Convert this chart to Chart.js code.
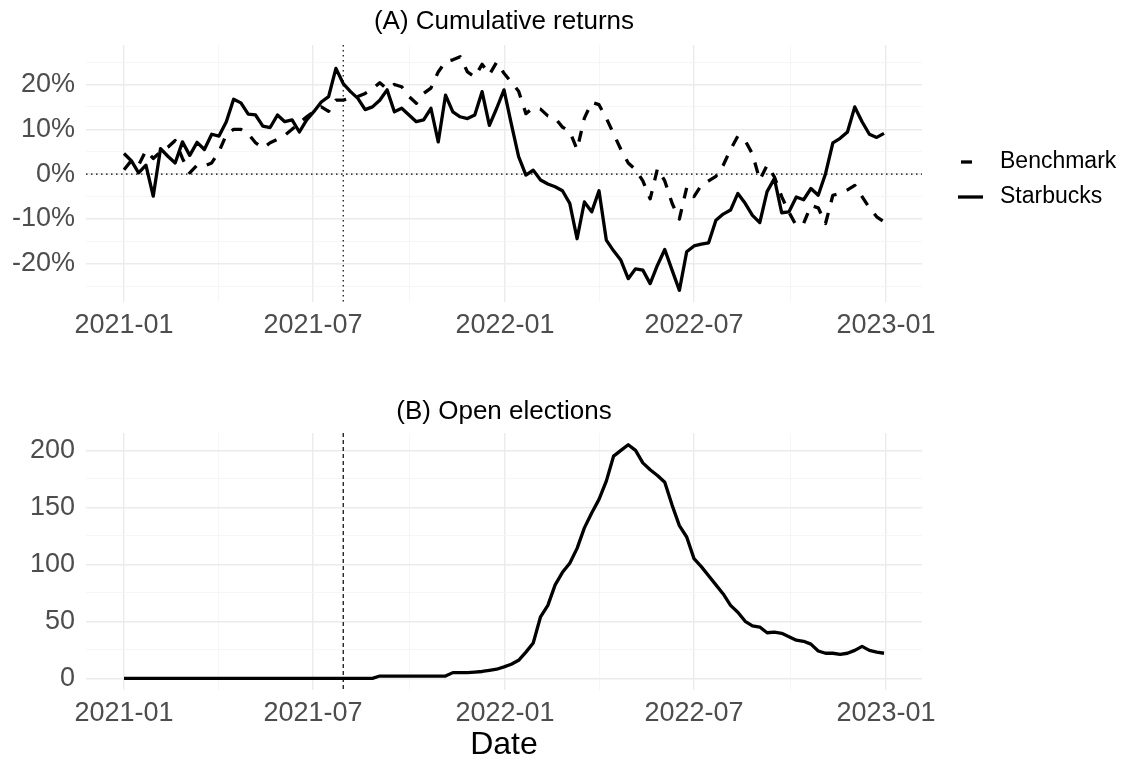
<!DOCTYPE html>
<html>
<head>
<meta charset="utf-8">
<script src="https://cdn.jsdelivr.net/npm/chart.js@4.4.1/dist/chart.umd.min.js"></script>
<style>
  body { margin: 0; background: #fff; }
  #wrap { position: relative; width: 1125px; height: 761px; }
  canvas { position: absolute; left: 0; }
</style>
</head>
<body>
<div id="wrap">
  <canvas id="returns" width="1125" height="380" style="top:0"></canvas>
  <canvas id="elections" width="1125" height="381" style="top:380px"></canvas>
</div>
<script>
// weekly observations, first one on this date
const firstWeek = '2021-01-01';

// cumulative returns, %
const starbucks = [
  4.6, 3.0, 0.3, 2.0, -4.9, 5.7, 4.0, 2.5, 7.2, 4.2,
  7.1, 5.5, 8.9, 8.5, 11.7, 16.7, 15.9, 13.4, 13.2, 10.7,
  10.4, 13.2, 11.7, 12.1, 9.4, 12.1, 14.0, 16.1, 17.3, 23.6,
  20.2, 18.4, 16.9, 14.4, 15.0, 16.5, 18.8, 13.9, 14.7, 13.2,
  11.7, 12.1, 14.7, 7.2, 17.6, 13.9, 12.8, 12.4, 13.2, 18.4,
  10.9, 14.7, 18.8, 11.2, 3.9, -0.2, 0.9, -1.3, -2.2, -2.8,
  -3.7, -6.5, -14.4, -6.2, -8.4, -3.7, -14.7, -17.1, -19.2, -23.3,
  -21.1, -21.4, -24.4, -20.3, -16.8, -21.4, -25.9, -17.3, -16.0, -15.6,
  -15.3, -10.3, -8.9, -8.0, -4.3, -6.5, -9.2, -10.8, -3.9, -1.0,
  -8.6, -8.4, -5.1, -5.7, -3.2, -4.7, 0.1, 7.0, 8.0, 9.4,
  15.0, 11.7, 8.9, 8.2, 9.1
];
const benchmark = [
  1.0, 3.0, 2.0, 5.3, 3.5, 5.0, 6.0, 7.5, 3.5, 0.3,
  2.0, 1.8, 2.5, 5.0, 8.8, 10.0, 10.0, 9.0, 7.0, 5.8,
  7.0, 7.8, 8.7, 10.0, 11.5, 12.8, 14.0, 15.0, 14.0, 16.5,
  16.5, 17.0, 17.3, 18.0, 19.0, 20.4, 19.0, 20.0, 19.5, 17.3,
  15.8, 18.0, 19.2, 22.8, 25.1, 25.5, 26.2, 22.8, 21.7, 24.5,
  22.2, 25.0, 22.5, 20.5, 18.5, 13.5, 14.8, 14.5, 13.0, 12.5,
  10.5, 9.5, 5.5, 12.5, 16.0, 15.5, 12.5, 9.0, 5.5, 2.5,
  1.0, -1.5, -5.5, 1.2, -1.5, -6.5, -10.0, -3.0, -5.0, -2.5,
  -1.5, -0.5, 2.0, 5.5, 8.5, 7.5, 4.5, -1.3, 2.0, -0.6,
  -5.0, -8.5, -11.5, -11.0, -7.0, -7.5, -11.0, -4.7, -4.3, -3.5,
  -2.5, -5.0, -7.5, -9.5, -10.6
];

// number of open union elections
const openElections = [
  0, 0, 0, 0, 0, 0, 0, 0, 0, 0,
  0, 0, 0, 0, 0, 0, 0, 0, 0, 0,
  0, 0, 0, 0, 0, 0, 0, 0, 0, 0,
  0, 0, 0, 0, 0, 2, 2, 2, 2, 2,
  2, 2, 2, 2, 2, 5, 5, 5, 5.5, 6,
  7, 8, 10, 12.3, 15.8, 23, 31, 54, 64, 82,
  93, 101, 114, 132, 145, 157, 173, 195, 200, 205,
  200, 189, 183, 178, 172, 152, 134, 124, 105, 98,
  90, 82, 74, 64, 58, 50, 46, 45, 40, 40.5,
  39.5, 36.5, 33.5, 32.5, 30, 24, 22, 22, 21, 22,
  24.5, 28, 24.5, 23, 22
];

const dateTicks = ['2021-01-01', '2021-07-01', '2022-01-01', '2022-07-01', '2023-01-01'];
const returnTicks = [-20, -10, 0, 10, 20];
const electionTicks = [0, 50, 100, 150, 200];
const eventDate = '2021-07-30';

const DAY = 86400000;
const t0 = Date.parse(firstWeek);
function toDay(s) { return (Date.parse(s) - t0) / DAY; }
const weekDays = starbucks.map((v, i) => i * 7);
const xMajors = dateTicks.map(toDay);

// ggplot style 5% padding around the data
function expand(vals) {
  const lo = Math.min(...vals), hi = Math.max(...vals), pad = (hi - lo) * 0.05;
  return [lo - pad, hi + pad];
}
// major breaks plus minor breaks halfway between
function gridTicks(majors, min, max) {
  const ticks = majors.map(v => ({ value: v }));
  for (let i = 0; i < majors.length - 1; i++) {
    ticks.push({ value: (majors[i] + majors[i + 1]) / 2, minor: true });
  }
  const n = majors.length;
  ticks.push({ value: majors[0] - (majors[1] - majors[0]) / 2, minor: true });
  ticks.push({ value: majors[n - 1] + (majors[n - 1] - majors[n - 2]) / 2, minor: true });
  return ticks.filter(t => t.value >= min && t.value <= max).sort((a, b) => a.value - b.value);
}

const xRange = expand(weekDays);
const retRange = expand(starbucks.concat(benchmark));
const elRange = expand(openElections);

const tickColor = '#4d4d4d';
const font = 'Liberation Sans, Arial, sans-serif';
const gridColor = c => (c.tick && c.tick.minor) ? '#f4f4f4' : '#ebebeb';
const gridWidth = c => (c.tick && c.tick.minor) ? 0.8 : 1.4;

function xScale(withTitle) {
  return {
    type: 'linear',
    min: xRange[0],
    max: xRange[1],
    afterBuildTicks: s => { s.ticks = gridTicks(xMajors, s.min, s.max); },
    afterFit: s => { s.height = withTitle ? 71 : 78; },
    grid: { color: gridColor, lineWidth: gridWidth, drawTicks: false },
    border: { display: false },
    ticks: {
      autoSkip: false, maxRotation: 0, padding: 7, color: tickColor,
      font: { family: font, size: 27 },
      callback: (v, i, ticks) => ticks[i].minor ? '' : dateTicks[xMajors.indexOf(v)].slice(0, 7)
    },
    title: {
      display: withTitle, text: 'Date', color: '#000',
      font: { family: font, size: 32, lineHeight: 1.0 }, padding: { top: 0, bottom: 0 }
    }
  };
}
function yScale(range, majors, fmt) {
  return {
    min: range[0],
    max: range[1],
    afterBuildTicks: s => { s.ticks = gridTicks(majors, s.min, s.max); },
    afterFit: s => { s.width = 86; },
    grid: { color: gridColor, lineWidth: gridWidth, drawTicks: false },
    border: { display: false },
    ticks: {
      autoSkip: false, padding: 11, color: tickColor, font: { family: font, size: 27 },
      callback: (v, i, ticks) => ticks[i].minor ? '' : fmt(v)
    }
  };
}

// dotted/dashed reference lines under the data
const refLines = {
  id: 'refLines',
  beforeDatasetsDraw(chart, args, opts) {
    const { ctx, chartArea, scales } = chart;
    ctx.save();
    ctx.strokeStyle = '#000';
    ctx.lineWidth = 1.2;
    ctx.setLineDash(opts.dash);
    if (opts.vx != null) {
      const x = scales.x.getPixelForValue(opts.vx);
      ctx.beginPath(); ctx.moveTo(x, chartArea.top); ctx.lineTo(x, chartArea.bottom); ctx.stroke();
    }
    if (opts.hy != null) {
      const y = scales.y.getPixelForValue(opts.hy);
      ctx.beginPath(); ctx.moveTo(chartArea.left, y); ctx.lineTo(chartArea.right, y); ctx.stroke();
    }
    ctx.restore();
  }
};

// legend drawn in the right margin, keys use the dataset styles
const sideLegend = {
  id: 'sideLegend',
  afterDraw(chart) {
    const ctx = chart.ctx;
    const rows = [162, 197];
    chart.data.datasets.forEach((ds, i) => {
      const y = rows[i];
      ctx.save();
      ctx.strokeStyle = ds.borderColor;
      ctx.lineWidth = ds.borderWidth;
      ctx.setLineDash(ds.borderDash || []);
      ctx.lineDashOffset = -3;
      ctx.beginPath(); ctx.moveTo(958, y); ctx.lineTo(983, y); ctx.stroke();
      ctx.restore();
      ctx.save();
      ctx.fillStyle = '#000';
      ctx.font = '23px ' + font;
      ctx.textBaseline = 'middle';
      ctx.fillText(ds.label, 1000, y);
      ctx.restore();
    });
  }
};

function titleOpts(text, top, bottom) {
  return {
    display: true, text: text, color: '#000', fullSize: false,
    font: { family: font, size: 26, weight: 'normal' },
    padding: { top: top, bottom: bottom }
  };
}

new Chart(document.getElementById('returns'), {
  type: 'line',
  data: {
    datasets: [
      {
        label: 'Benchmark',
        data: benchmark.map((v, i) => ({ x: weekDays[i], y: v })),
        borderColor: '#000', borderWidth: 3.3, borderDash: [11, 11],
        borderJoinStyle: 'round', pointRadius: 0, tension: 0
      },
      {
        label: 'Starbucks',
        data: starbucks.map((v, i) => ({ x: weekDays[i], y: v })),
        borderColor: '#000', borderWidth: 3.3,
        borderJoinStyle: 'round', pointRadius: 0, tension: 0
      }
    ]
  },
  options: {
    responsive: false,
    animation: false,
    layout: { padding: { left: 0, right: 203, top: 0, bottom: 0 } },
    plugins: {
      legend: { display: false },
      tooltip: { enabled: false },
      title: titleOpts('(A) Cumulative returns', 6.4, 7.4),
      refLines: { vx: toDay(eventDate), hy: 0, dash: [1.5, 3.5] }
    },
    scales: {
      x: xScale(false),
      y: yScale(retRange, returnTicks, v => v + '%')
    }
  },
  plugins: [refLines, sideLegend]
});

new Chart(document.getElementById('elections'), {
  type: 'line',
  data: {
    datasets: [{
      label: 'Open elections',
      data: openElections.map((v, i) => ({ x: weekDays[i], y: v })),
      borderColor: '#000', borderWidth: 3.3,
      borderJoinStyle: 'round', pointRadius: 0, tension: 0
    }]
  },
  options: {
    responsive: false,
    animation: false,
    layout: { padding: { left: 0, right: 203, top: 0, bottom: 0 } },
    plugins: {
      legend: { display: false },
      tooltip: { enabled: false },
      title: titleOpts('(B) Open elections', 16.4, 5.4),
      refLines: { vx: toDay(eventDate), hy: null, dash: [4, 3] }
    },
    scales: {
      x: xScale(true),
      y: yScale(elRange, electionTicks, v => String(v))
    }
  },
  plugins: [refLines]
});
</script>
</body>
</html>
